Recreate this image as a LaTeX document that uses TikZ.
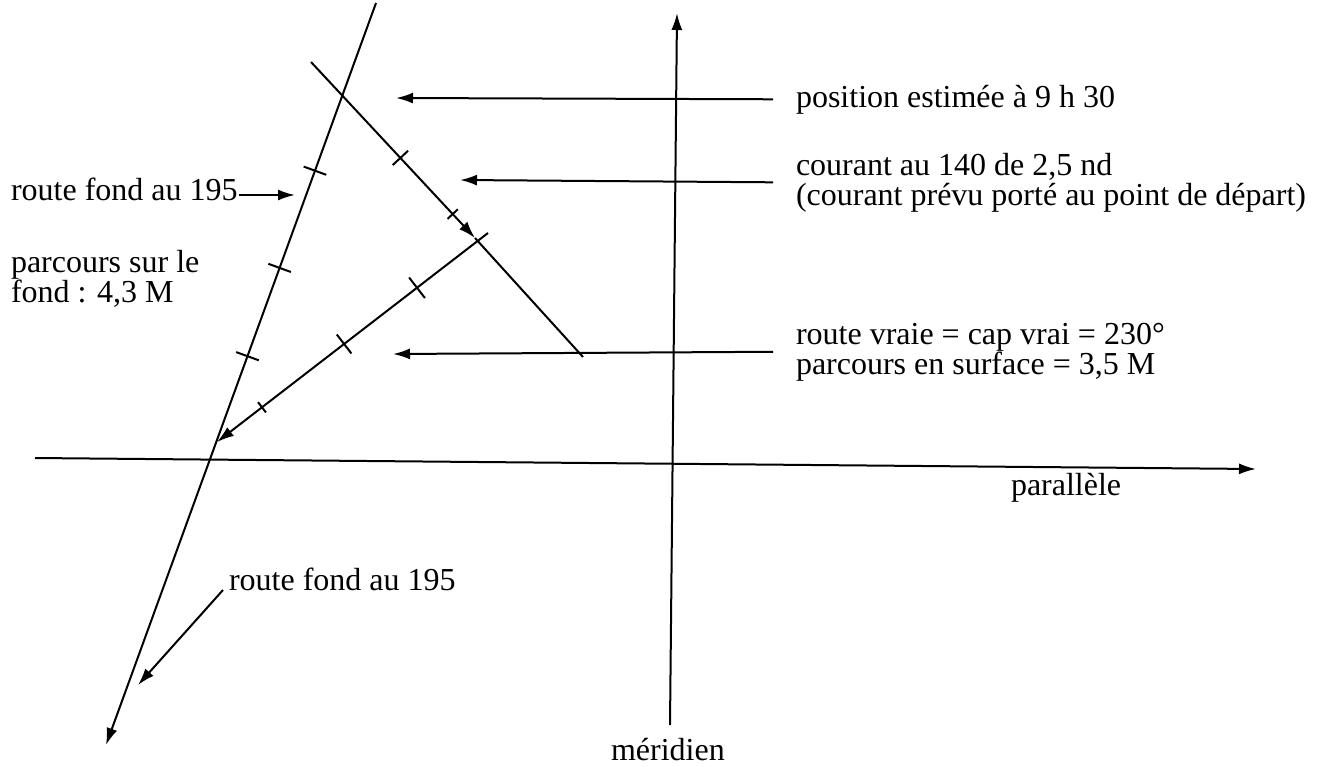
\documentclass[tikz,border=0pt]{standalone}
\usepackage{fontspec}
\setmainfont{Liberation Serif}
\usepackage{tikz}
\usetikzlibrary{arrows.meta,calc}
\newcommand{\tickmark}[4]{\draw ($(#1)!#3!(#2)!#4!90:(#2)$) -- ($(#1)!#3!(#2)!#4!-90:(#2)$);}
\tikzset{legende/.style={anchor=base west,inner sep=0pt,align=left}}

\begin{document}
\begin{tikzpicture}[>={Latex[length=8.5pt,width=5.5pt]},x=0.5pt,y=-0.5pt,line width=1pt,
  font=\fontsize{16}{15}\selectfont]
\useasboundingbox (0,0) rectangle (1322,766);
% meridien et parallele
\coordinate (sud) at (670,725);
\coordinate (nord) at (677,13);
\coordinate (ouest) at (35,458);
\coordinate (est) at (1256,469);
\draw[->] (sud) -- (nord);
\draw[->] (ouest) -- (est);
\node[legende] (meridien) at (610,760) {méridien};
\node[legende] (parallele) at (1010,495) {parallèle};
% route fond
\coordinate (fondhaut) at (376,3);
\coordinate (fondbas) at (106,745);
\draw[->] (fondhaut) -- (fondbas);
\tickmark{fondhaut}{fondbas}{0.226}{6pt}
\tickmark{fondhaut}{fondbas}{0.357}{6pt}
\tickmark{fondhaut}{fondbas}{0.476}{6pt}
% courant
\coordinate (depart) at (311,62);
\coordinate (derive) at (475,238);
\coordinate (courantfin) at (583,357);
\draw[->] (depart) -- (derive);
\draw (derive) -- (courantfin);
\tickmark{depart}{derive}{0.545}{5.25pt}
\tickmark{depart}{derive}{0.864}{3.5pt}
% route surface
\coordinate (surfhaut) at (488,233);
\coordinate (surfbas) at (217,442);
\draw[->] (surfhaut) -- (surfbas);
\tickmark{surfhaut}{surfbas}{0.262}{6.5pt}
\tickmark{surfhaut}{surfbas}{0.531}{6pt}
\tickmark{surfhaut}{surfbas}{0.834}{3.25pt}
% legendes a droite
\node[legende] (estime) at (795,107) {position estimée à 9 h 30};
\node[legende] (courant) at (795,205) {courant au 140 de 2,5 nd\\(courant prévu porté au point de départ)};
\node[legende] (vraie) at (795,374) {route vraie = cap vrai = 230°\\parcours en surface = 3,5 M};
\coordinate (estimepointe) at (396,98);
\coordinate (courantpointe) at (460,180);
\coordinate (vraiepointe) at (393,354);
\draw[->] ([xshift=-11pt]estime.west) -- (estimepointe);
\draw[->] ([xshift=-11pt]courant.west) -- (courantpointe);
\draw[->] ([xshift=-11pt]vraie.west) -- (vraiepointe);
% legendes a gauche
\node[legende] (fondtxt) at (10,200) {route fond au 195};
\node[legende] (parcours) at (10,302) {parcours sur le\\fond : 4,3 M};
\node[legende] (fondtxtbas) at (228,590) {route fond au 195};
\coordinate (fondpointe) at (295,195);
\coordinate (fondpointebas) at (138,685);
\draw[->] (fondtxt.east |- fondpointe) -- (fondpointe);
\draw[->] ([xshift=-2.5pt]fondtxtbas.base west) -- (fondpointebas);
\end{tikzpicture}
\end{document}
